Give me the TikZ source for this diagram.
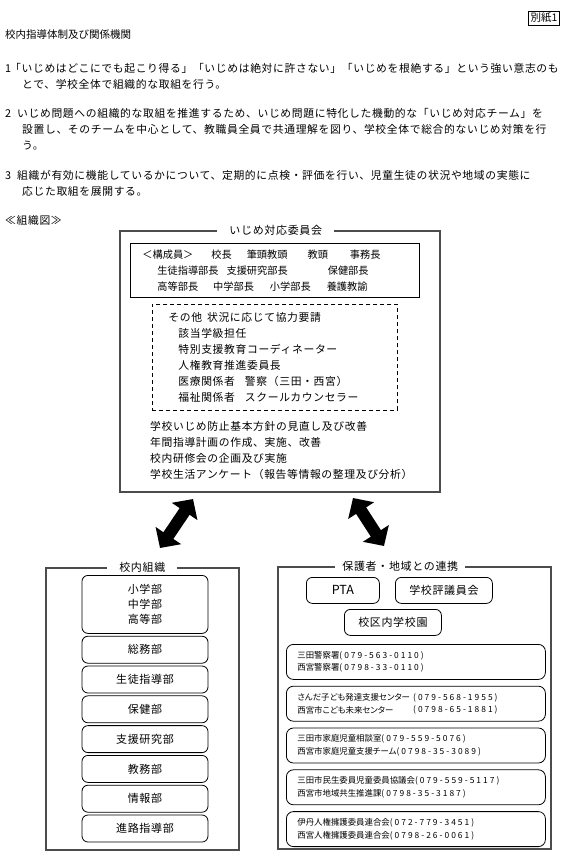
\documentclass[tikz,border=0pt]{standalone}
\usepackage{fontspec}
\setmainfont{Noto Sans CJK JP}
\newfontfamily\spacedfont[LetterSpace=6]{Noto Sans CJK JP}
\newfontfamily\contactfont[RawFeature=+palt]{Noto Sans CJK JP}
\newfontfamily\telfont[LetterSpace=24]{Noto Sans CJK JP}
\usetikzlibrary{positioning,arrows.meta,calc}

\newcommand{\tel}[1]{{\telfont #1}}

\begin{document}
\begin{tikzpicture}[
    x=1pt, y=-1pt,
    textline/.style={inner sep=0pt, anchor=base west, align=left, font=\spacedfont\fontsize{10.8}{16}\selectfont},
    panel/.style={draw=black!70, line width=1.6pt, anchor=north west},
    paneltitle/.style={fill=white, inner ysep=2pt, inner xsep=12pt, font=\spacedfont\fontsize{11}{12}\selectfont},
    memberbox/.style={draw, line width=0.8pt, anchor=north west, minimum height=54pt, text width=265pt, inner xsep=12pt, align=left, font=\fontsize{10.2}{16}\selectfont},
    helperbox/.style={draw, line width=0.8pt, dash pattern=on 4pt off 3pt, anchor=north west, minimum height=106pt, text width=213pt, inner xsep=16pt, align=left, font=\spacedfont\fontsize{10.8}{16}\selectfont},
    unit/.style={draw, line width=0.8pt, rounded corners=6pt, minimum width=126pt, minimum height=27pt, align=center, font=\spacedfont\fontsize{11}{15}\selectfont},
    partner/.style={draw, line width=0.8pt, rounded corners=6pt, minimum height=26pt, anchor=north west, font=\spacedfont\fontsize{11}{12}\selectfont},
    contact/.style={draw, line width=0.8pt, rounded corners=7pt, text width=237pt, inner xsep=11pt, minimum height=35pt, align=left, font=\contactfont\fontsize{8.4}{12.5}\selectfont},
    telcolumn/.style={inner sep=0pt, anchor=west, align=left, font=\contactfont\fontsize{8.4}{12.5}\selectfont},
    bigarrow/.style={line width=12pt, {Triangle[width=30pt,length=15pt]}-{Triangle[width=30pt,length=15pt]}},
]
\fill[white] (0,0) rectangle (565,854);
\useasboundingbox (0,0) rectangle (565,854);

% heading and policy
\node[draw, line width=0.7pt, inner xsep=2pt, inner ysep=2pt, font=\fontsize{10.5}{12}\selectfont] (sheet) at (544,18) {別紙1};
\node[textline, font=\fontsize{10.5}{16}\selectfont] (heading) at (5,38) {校内指導体制及び関係機関};

\node[textline] (num1) at (5,72) {1};
\node[textline] (item1) at (10,88) {「いじめはどこにでも起こり得る」「いじめは絶対に許さない」「いじめを根絶する」という強い意志のも\\
    \hspace*{12pt}とで、学校全体で組織的な取組を行う。};
\node[textline] (num2) at (5,117) {2};
\node[textline] (item2) at (17,149) {いじめ問題への組織的な取組を推進するため、いじめ問題に特化した機動的な「いじめ対応チーム」を\\
    \hspace*{5pt}設置し、そのチームを中心として、教職員全員で共通理解を図り、学校全体で総合的ないじめ対策を行\\
    \hspace*{5pt}う。};
\node[textline] (num3) at (5,179) {3};
\node[textline] (item3) at (17,195) {組織が有効に機能しているかについて、定期的に点検・評価を行い、児童生徒の状況や地域の実態に\\
    \hspace*{5pt}応じた取組を展開する。};
\node[textline] (chartlabel) at (5,224) {≪組織図≫};

% committee
\node[panel, minimum width=320pt, minimum height=261pt] (committee) at (119,230) {};
\node[paneltitle] (committeetitle) at ([xshift=-4pt]committee.north) {いじめ対応委員会};
\node[memberbox] (members) at (130,243) {＜構成員＞\hspace{18pt}校長\hspace{15pt}筆頭教頭\hspace{20pt}教頭\hspace{22pt}事務長\\
    \hspace*{15pt}生徒指導部長\hspace{8pt}支援研究部長\hspace{40pt}保健部長\\
    \hspace*{15pt}高等部長\hspace{15pt}中学部長\hspace{16pt}小学部長\hspace{16pt}養護教諭};
\node[helperbox] (helpers) at (152,304) {その他\hspace{5pt}状況に応じて協力要請\\
    \hspace*{10pt}該当学級担任\\
    \hspace*{10pt}特別支援教育コーディネーター\\
    \hspace*{10pt}人権教育推進委員長\\
    \hspace*{10pt}医療関係者\hspace{10pt}警察（三田・西宮）\\
    \hspace*{10pt}福祉関係者\hspace{10pt}スクールカウンセラー};
\node[textline] (tasks) at (150,478) {学校いじめ防止基本方針の見直し及び改善\\
    年間指導計画の作成、実施、改善\\
    校内研修会の企画及び実施\\
    学校生活アンケート（報告等情報の整理及び分析）};

% arrows
\coordinate (leftup) at (193,499);
\coordinate (leftdown) at (160,548);
\coordinate (rightup) at (353,498);
\coordinate (rightdown) at (384,546);
\draw[bigarrow] (leftup) -- (leftdown);
\draw[bigarrow] (rightup) -- (rightdown);

% school units
\node[panel, minimum width=193pt, minimum height=282pt] (school) at (45,567) {};
\node[paneltitle] (schooltitle) at (school.north) {校内組織};
\node[unit, minimum height=58pt, anchor=north] (grades) at (145,575) {小学部\\中学部\\高等部};
\node[unit, below=2pt of grades] (general) {総務部};
\node[unit, below=2pt of general] (guidance) {生徒指導部};
\node[unit, below=2pt of guidance] (health) {保健部};
\node[unit, below=2pt of health] (research) {支援研究部};
\node[unit, below=2pt of research] (academic) {教務部};
\node[unit, below=2pt of academic] (info) {情報部};
\node[unit, below=2pt of info] (career) {進路指導部};

% community
\node[panel, minimum width=273pt, minimum height=282pt] (community) at (277,566) {};
\node[paneltitle, inner xsep=7pt] (communitytitle) at ([xshift=-14pt]community.north) {保護者・地域との連携};
\node[partner, minimum width=73pt, font=\fontsize{12.5}{12}\selectfont] (pta) at (306,577) {PTA};
\node[partner, minimum width=97pt] (council) at (395,577) {学校評議員会};
\node[partner, minimum width=97pt] (schools) at (344,609) {校区内学校園};
\node[contact, anchor=north west] (police) at (286,644) {三田警察署\tel{(079-563-0110)}\\西宮警察署\tel{(0798-33-0110)}};
\node[contact, below=6pt of police] (growth) {さんだ子ども発達支援センター\\西宮市こども未来センター};
\node[telcolumn] (growthtel) at ([xshift=127pt]growth.west) {\tel{(079-568-1955)}\\\tel{(0798-65-1881)}};
\node[contact, below=6pt of growth] (family) {三田市家庭児童相談室\tel{(079-559-5076)}\\西宮市家庭児童支援チーム\tel{(0798-35-3089)}};
\node[contact, below=6pt of family] (welfare) {三田市民生委員児童委員協議会\tel{(079-559-5117)}\\西宮市地域共生推進課\tel{(0798-35-3187)}};
\node[contact, below=6pt of welfare] (rights) {伊丹人権擁護委員連合会\tel{(072-779-3451)}\\西宮人権擁護委員連合会\tel{(0798-26-0061)}};
\end{tikzpicture}
\end{document}
